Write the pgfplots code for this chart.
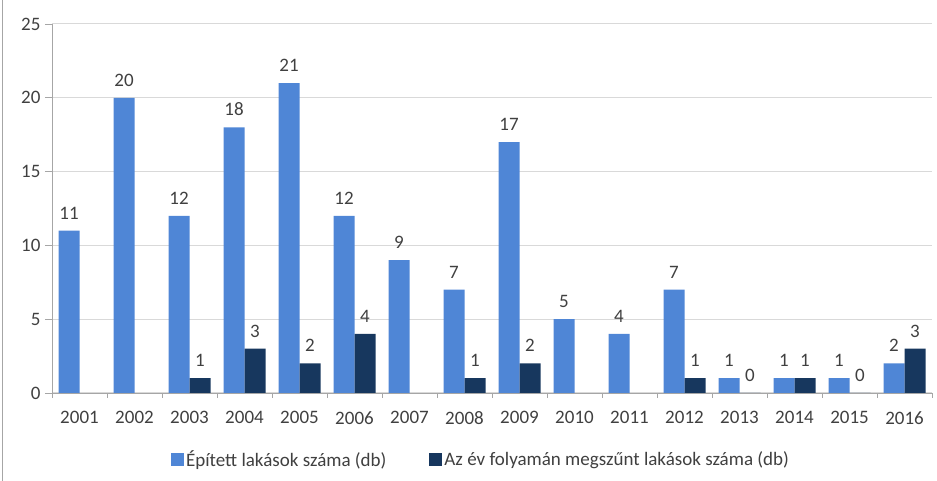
\documentclass[border=0pt]{standalone}
\usepackage{pgfplots}
\pgfplotsset{compat=1.18}
\usepackage{fontspec}
\setmainfont{Carlito}
\definecolor{cblue}{HTML}{4F86D6}
\definecolor{cdark}{HTML}{17375E}
\definecolor{ctext}{HTML}{404040}
\definecolor{cgrid}{HTML}{D9D9D9}
\definecolor{caxis}{HTML}{A6A6A6}
\newcommand{\cfont}{\fontsize{19}{22}\selectfont}
\begin{document}
\begin{tikzpicture}[x=1pt,y=1pt]
\path[use as bounding box] (-52,-88) rectangle (885,393);
\draw[color=caxis, line width=1pt] (-49,-88) -- (-49,393);
\begin{axis}[
  scale only axis,
  width=880pt, height=369pt,
  ybar=0pt, bar width=21pt,
  xmin=-0.5, xmax=15.5,
  ymin=0, ymax=25,
  ytick={0,5,...,25},
  xtick={0,...,15},
  xticklabels={2001,2002,2003,2004,2005,2006,2007,2008,2009,2010,2011,2012,2013,2014,2015,2016},
  minor xtick={-0.5,0.5,...,15.5},
  major x tick style={draw=none},
  minor tick length=5pt,
  major tick length=7pt,
  tick align=outside,
  axis x line*=bottom, axis y line*=left,
  x axis line style={draw=caxis, line width=0.8pt},
  y axis line style={draw=caxis, line width=0.8pt},
  every tick/.style={draw=caxis, line width=0.6pt},
  ymajorgrids, grid style={cgrid, line width=1pt},
  ticklabel style={font=\cfont, text=ctext},
  /pgf/number format/assume math mode=true,
  xticklabel style={yshift=-8pt},
  yticklabel style={xshift=-1pt},
  nodes near coords,
  every node near coord/.append style={font=\cfont, text=ctext, yshift=8pt},
  legend style={at={(0.4875,-0.179)}, anchor=center, draw=none, legend columns=2,
    font=\cfont, text=ctext, nodes={font=\cfont},
    /tikz/every even column/.append style={column sep=41pt}},
  legend image code/.code={\fill[#1] (2pt,-6.5pt) rectangle (15pt,6.5pt);},
]
\addplot[fill=cblue, draw=none] coordinates {
 (0,11) (1,20) (2,12) (3,18) (4,21) (5,12) (6,9) (7,7) (8,17) (9,5) (10,4) (11,7) (12,1) (13,1) (14,1) (15,2)};
\addplot[fill=cdark, draw=none] coordinates {
 (2,1) (3,3) (4,2) (5,4) (7,1) (8,2) (11,1) (12,0) (13,1) (14,0) (15,3)};
\legend{Épített lakások száma (db), Az év folyamán megszűnt lakások száma (db)}
\end{axis}
\end{tikzpicture}
\end{document}
